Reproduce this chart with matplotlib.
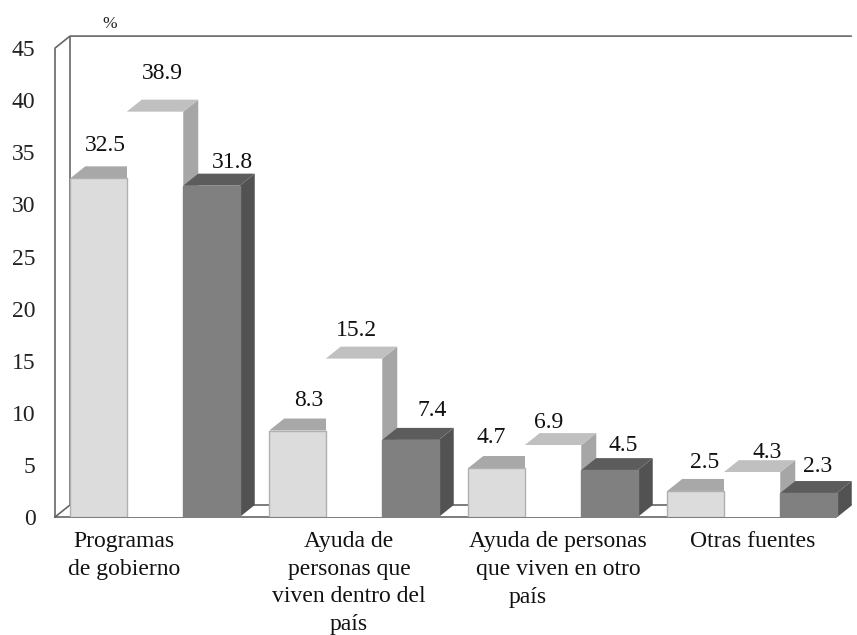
import matplotlib
matplotlib.use('Agg')
import matplotlib.pyplot as plt
import numpy as np
from matplotlib.patches import Polygon

plt.rcParams['font.family'] = ['Liberation Serif', 'DejaVu Serif']

# values
categories = ['Programas\nde gobierno', 'Ayuda de\npersonas que\nviven dentro del\npaís',
              'Ayuda de personas\nque viven en otro', 'Otras fuentes']
serie_a = [32.5, 8.3, 4.7, 2.5]
serie_b = [38.9, 15.2, 6.9, 4.3]
serie_c = [31.8, 7.4, 4.5, 2.3]
yticks = [0, 5, 10, 15, 20, 25, 30, 35, 40, 45]

# (front, top, side) of each series
colors = [('#dcdcdc', '#a8a8a8', '#a8a8a8'),
          ('#ffffff', '#c0c0c0', '#a6a6a6'),
          ('#808080', '#5c5c5c', '#525252')]
edges = ['#b0b0b0', 'none', '#808080']

# label offsets in pixels from the bar's front top centre
offs = [[(7, 33), (7, 38), (21, 23)],
        [(11, 30), (2, 28), (22, 29)],
        [(-5, 31), (-4, 23), (14, 25)],
        [(9, 28), (15, 20), (9, 27)]]

W, H = 857, 635
fig = plt.figure(figsize=(W/100, H/100), dpi=100)
ax = fig.add_axes([55/W, 1-517/H, (852-55)/W, (517-36)/H])
xmin = (55-155)/199
xmax = (852-155)/199
ax.set_xlim(xmin, xmax)
ax.set_ylim(0, 481/10.42)

bw = 56.5/199
dx = 15/199
dy = 12/10.42
wall = '#666666'
ymax = 45
left = xmin
right = xmin + 781/199

# walls and floor
ax.plot([left, left, left+dx, right+dx], [0, ymax, ymax+dy, ymax+dy], color=wall, lw=1.2, clip_on=False, zorder=1)
ax.plot([left+dx, left+dx], [ymax+dy, dy], color=wall, lw=1.2, zorder=1)
ax.plot([left, left+dx, right+dx, right, left], [0, dy, dy, 0, 0], color=wall, lw=1.2, clip_on=False, zorder=1)

x = np.arange(len(categories))
series = [serie_a, serie_b, serie_c]
z = 2
for i in x:
    for s in range(3):
        v = series[s][i]
        xc = i + (s-1)*bw
        x0 = xc - bw/2
        x1 = xc + bw/2
        front, top, side = colors[s]
        ax.add_patch(Polygon([(x1, 0), (x1+dx, dy), (x1+dx, v+dy), (x1, v)], facecolor=side, edgecolor='none', zorder=z))
        ax.add_patch(Polygon([(x0, v), (x0+dx, v+dy), (x1+dx, v+dy), (x1, v)], facecolor=top, edgecolor='none', zorder=z))
        # light bars go last so their grey outline stays visible
        ax.bar(xc, v, bw, color=front, edgecolor=edges[s], linewidth=1, zorder=40 if s == 0 else z+0.5)
        z += 1
        ax.annotate('%.1f' % v, (xc, v), xytext=offs[i][s], textcoords='offset pixels',
                    ha='center', va='center', fontsize=17, zorder=50, color='#111111')

for sp in ax.spines.values():
    sp.set_visible(False)
ax.set_xticks([])
ax.set_yticks(yticks)
ax.tick_params(axis='y', length=0, pad=14, labelsize=17, labelcolor='#222222')
ax.patch.set_alpha(0)

# category labels, placed by hand like in the original
label_px = [124, 349, 558, 753]
for px, c in zip(label_px, categories):
    fig.text(px/W, 1-531/H, c, ha='center', va='top', fontsize=17, linespacing=1.42, color='#111111')
fig.text(528/W, 1-597/H, 'país', ha='center', va='center', fontsize=17, color='#111111')
fig.text(110/W, 1-24/H, '%', ha='center', va='center', fontsize=12.5, color='#222222')

fig.savefig('out.png', dpi=100)
